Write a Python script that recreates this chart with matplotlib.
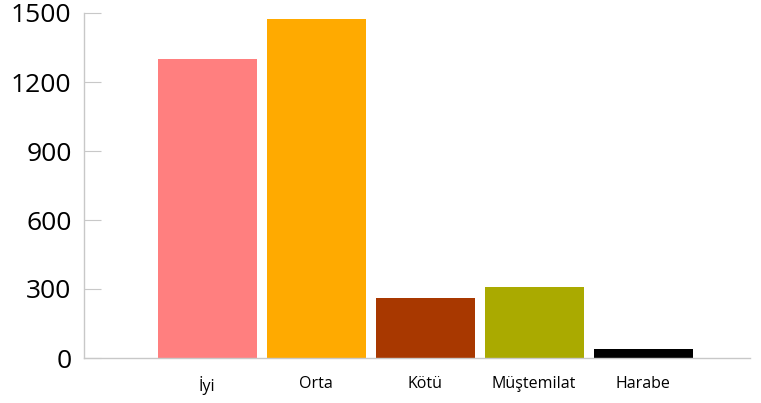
import numpy as np
import matplotlib.pyplot as plt

plt.rcParams['font.family'] = ['Open Sans', 'DejaVu Sans']

# data
categories = ['İyi', 'Orta', 'Kötü', 'Müştemilat', 'Harabe']
values = [1300, 1474, 261, 309, 39]
colors = ['#FF7F7F', '#FFAA00', '#A83800', '#AAAA00', '#000000']
yticks = [0, 300, 600, 900, 1200, 1500]

fig = plt.figure(figsize=(7.61, 4.03), dpi=100)
ax = fig.add_axes([84 / 761, 45 / 403, (750 - 84) / 761, (358 - 13) / 403])

x = np.arange(len(categories))
ax.bar(x, values, width=0.91, color=colors)

ax.set_xlim(-1.13, 4.98)
ax.set_ylim(0, 1500)
ax.set_yticks(yticks)
ax.set_xticks(x)
ax.set_xticklabels(categories, fontsize=11.5)

for s in ['top', 'right']:
    ax.spines[s].set_visible(False)
for s in ['left', 'bottom']:
    ax.spines[s].set_color('#c8c8c8')
    ax.spines[s].set_linewidth(1.0)

ax.tick_params(axis='y', direction='in', length=12.5, color='#c8c8c8',
               labelsize=19, pad=9)
ax.tick_params(axis='x', length=0, pad=13)

fig.savefig('out.png', dpi=100)
